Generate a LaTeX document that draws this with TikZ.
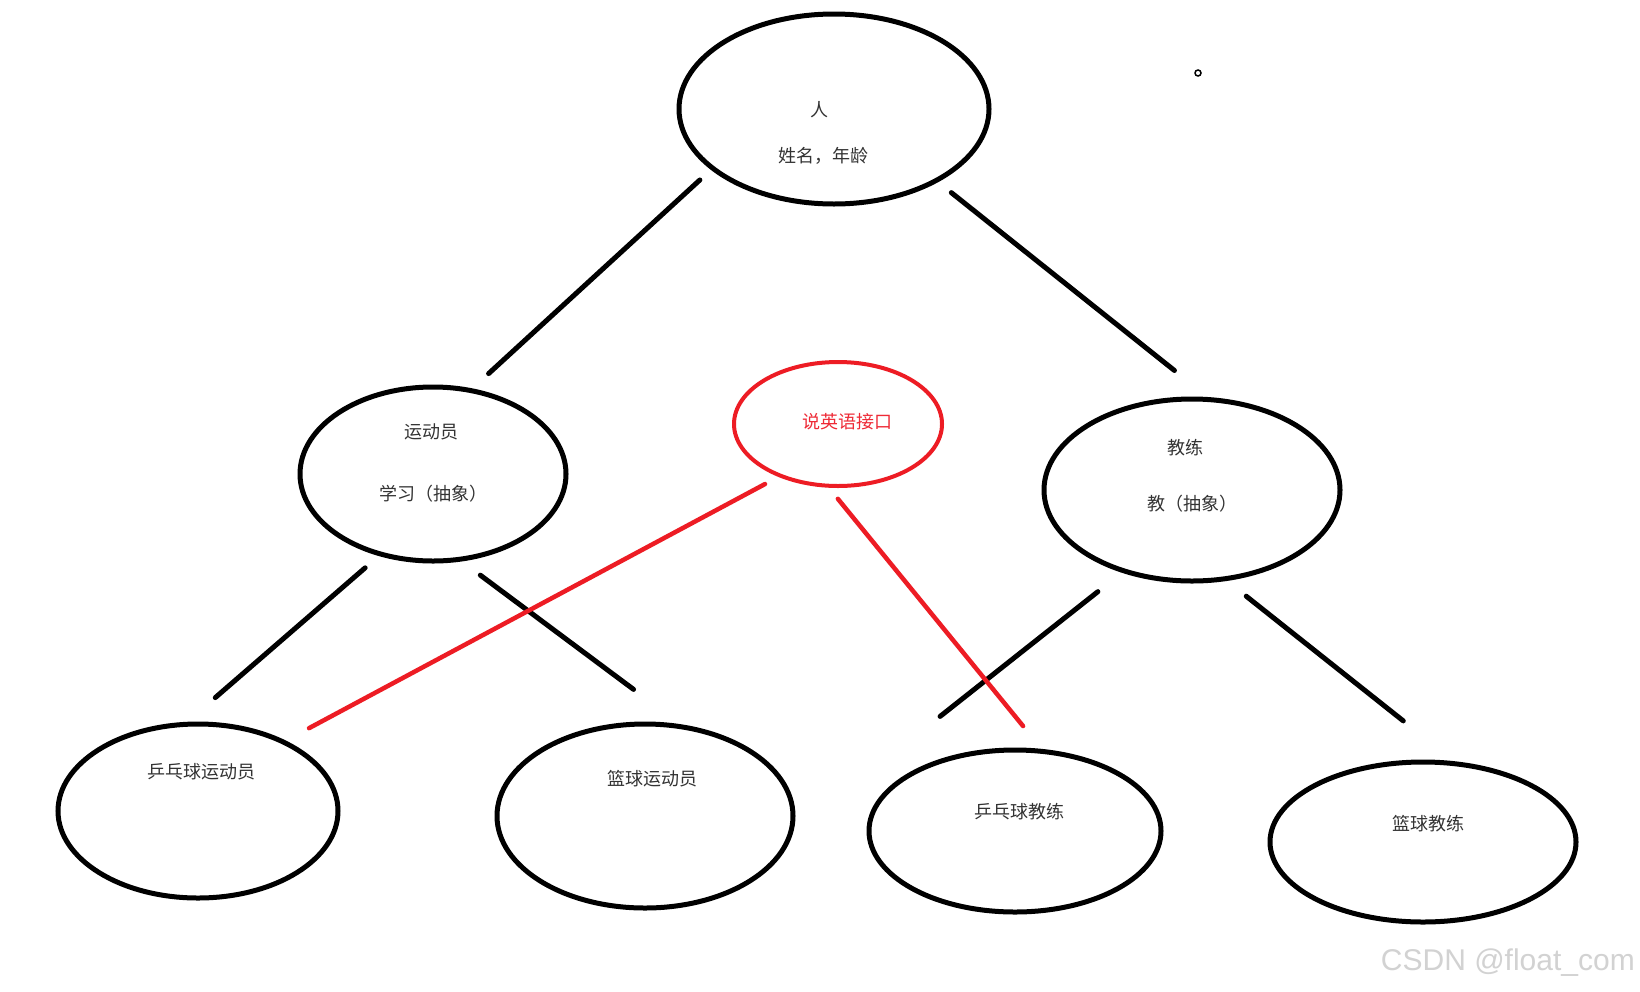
\documentclass[tikz,border=0pt]{standalone}
\usepackage{fontspec}
\usepackage{tikz}
\usetikzlibrary{shapes.geometric}
\newfontfamily\cjk{Noto Sans CJK SC}
\newfontfamily\wmfont{Liberation Sans}
\definecolor{Ink}{HTML}{333333}
\definecolor{PaintRed}{HTML}{ED1C24}
\definecolor{RedInk}{HTML}{EE2A36}
\definecolor{Mark}{HTML}{D2D2D2}

\begin{document}
\begin{tikzpicture}[
    x=1pt,y=-1pt,
    oval/.style={ellipse,draw=black,line width=5pt,inner sep=0pt,outer sep=0pt},
    redoval/.style={oval,draw=PaintRed,line width=4pt},
    txt/.style={font=\cjk\fontsize{18}{20}\selectfont,text=Ink,inner sep=0pt},
    link/.style={line width=5pt,line cap=round,black},
    redlink/.style={line width=4.5pt,line cap=round,PaintRed}
  ]
    \useasboundingbox[fill=white] (0,0) rectangle (1640,991);
    % ellipses
    \node[oval,minimum width=310,minimum height=190] (ren) at (834,109) {};
    \node[oval,minimum width=266,minimum height=174] (ydy) at (433,474) {};
    \node[redoval,minimum width=208,minimum height=124] (ying) at (838,424) {};
    \node[oval,minimum width=296,minimum height=182] (jl) at (1192,490) {};
    \node[oval,minimum width=280,minimum height=174] (b1) at (198,811) {};
    \node[oval,minimum width=296,minimum height=184] (b2) at (645,816) {};
    \node[oval,minimum width=292,minimum height=162] (b3) at (1015,831) {};
    \node[oval,minimum width=306,minimum height=160] (b4) at (1423,842) {};
    % texts
    \node[txt] (renname) at (819,110) {人};
    \node[txt] (renattr) at (823,156) {姓名，年龄};
    \node[txt] (ydyname) at (431,432) {运动员};
    \node[txt] (ydyattr) at (433,494) {学习（抽象）};
    \node[txt,text=RedInk] (yingname) at (847,422) {说英语接口};
    \node[txt] (jlname) at (1185,448) {教练};
    \node[txt] (jlattr) at (1192,504) {教（抽象）};
    \node[txt] (b1name) at (201,772) {乒乓球运动员};
    \node[txt] (b2name) at (652,779) {篮球运动员};
    \node[txt] (b3name) at (1019,812) {乒乓球教练};
    \node[txt] (b4name) at (1428,824) {篮球教练};
    \node[circle,draw,line width=1.5pt,minimum size=6pt,inner sep=0pt] (dot) at (1198,73) {};
    \node[font=\wmfont\fontsize{30}{34}\selectfont,text=Mark,anchor=east,inner sep=0pt] (mark) at (1635,963) {CSDN @float\_com};
    % connectors
    \draw[link,shorten <=17.5pt,shorten >=25pt] (ren.206) -- (ydy.66);
    \draw[link,shorten <=19.5pt,shorten >=47pt] (ren.325) -- (jl.78.5);
    \draw[link,shorten <=21pt,shorten >=41pt] (ydy.237.6) -- (b1.99.9);
    \draw[link,shorten <=26.5pt,shorten >=63.5pt] (ydy.287) -- (b2.66.5);
    \draw[link,shorten <=33.5pt,shorten >=90.6pt] (jl.230.7) -- (b3.west |- b3.150);
    \draw[link,shorten <=28pt,shorten >=69.5pt] (jl.290.3) -- (b4.66.6);
    \draw[redlink,shorten <=17.7pt,shorten >=29.3pt] (ying.222.5) -- (b1.39.3);
    \draw[redlink,shorten <=17pt,shorten >=33pt] (ying.260) -- (b3.70);
  \end{tikzpicture}
\end{document}
